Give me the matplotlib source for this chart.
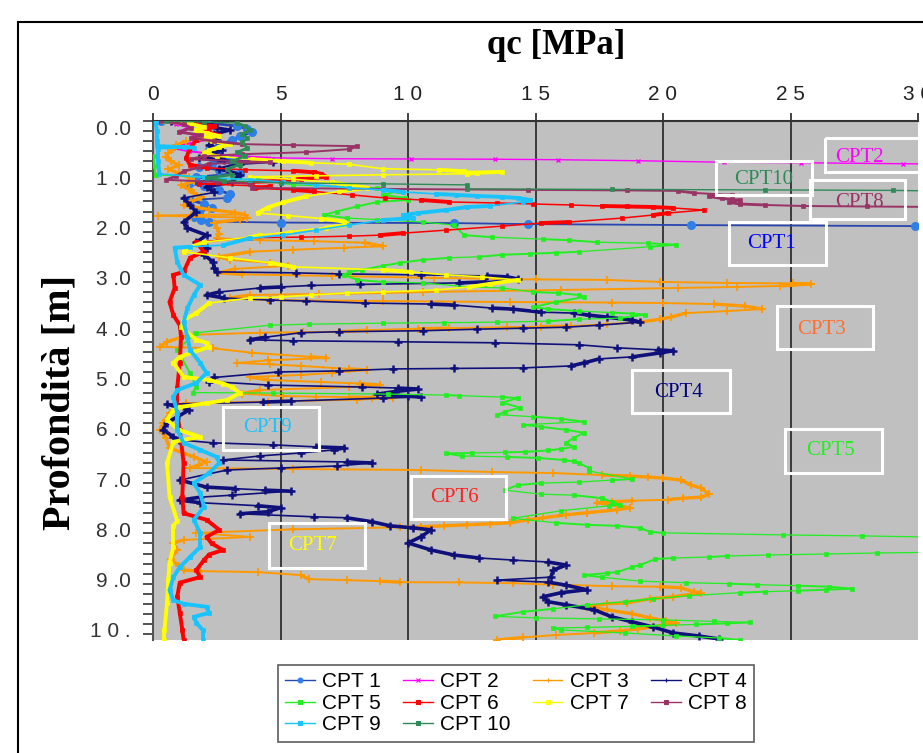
import numpy as np
import matplotlib
matplotlib.use("Agg")
import matplotlib.pyplot as plt
from matplotlib import font_manager
from matplotlib.patches import Rectangle
from matplotlib.lines import Line2D
from matplotlib.collections import LineCollection
import matplotlib.transforms as mtransforms

# ---- data: (depth [m], qc [MPa]) ----
cpt1 = [(0.00, 0.3), (0.04, 2.2), (0.10, 3.3), (0.16, 3.7), (0.22, 3.9), (0.30, 3.4), (0.38, 3.1),
        (0.48, 2.6), (0.58, 2.2), (0.68, 2.6), (0.78, 3.0), (0.85, 2.3), (0.91, 1.8), (0.97, 2.6),
        (1.03, 3.4), (1.11, 1.7), (1.17, 2.5), (1.23, 1.45), (1.30, 2.0), (1.38, 2.6), (1.45, 3.0),
        (1.53, 2.9), (1.57, 1.45), (1.65, 2.0), (1.72, 2.3), (1.81, 1.8), (1.91, 1.6), (1.97, 1.9),
        (2.00, 2.2), (2.02, 5.0), (2.03, 11.8), (2.05, 14.7), (2.07, 21.1), (2.09, 29.9), (2.10, 32.0)]

cpt2 = [(0.00, 0.2), (0.06, 0.9), (0.12, 1.4), (0.20, 1.1), (0.28, 1.6), (0.36, 2.2), (0.44, 1.5),
        (0.50, 0.9), (0.54, 0.8), (0.60, 1.4), (0.66, 2.4), (0.70, 3.5), (0.73, 4.5), (0.75, 7.0),
        (0.755, 10.1), (0.76, 13.4), (0.77, 15.9), (0.79, 19.0), (0.82, 22.4), (0.83, 25.4),
        (0.85, 29.4), (0.86, 32.0)]

cpt3 = [(0.40, 1.3), (0.48, 0.9), (0.56, 0.8), (0.64, 0.6), (0.72, 0.5), (0.80, 0.7), (0.88, 1.0),
        (0.96, 0.6), (1.04, 1.0), (1.12, 1.4), (1.20, 1.6), (1.28, 1.1), (1.36, 1.4), (1.44, 1.6),
        (1.52, 1.9), (1.60, 1.5), (1.68, 1.2), (1.76, 2.2), (1.82, 3.2), (1.86, 3.6), (1.87, 1.5),
        (1.88, 0.2), (1.90, 1.5), (1.92, 3.7), (1.96, 3.4), (2.02, 2.4), (2.12, 2.5), (2.25, 2.6),
        (2.33, 2.5), (2.37, 4.2), (2.39, 6.3), (2.42, 8.3), (2.49, 9.0), (2.52, 7.5), (2.56, 5.5),
        (2.60, 3.8), (2.70, 2.6), (2.76, 3.0), (2.82, 4.6), (2.88, 5.3), (2.94, 3.2), (3.02, 2.6),
        (3.05, 3.5), (3.08, 7.0), (3.12, 11.0), (3.15, 15.0), (3.16, 17.8), (3.20, 19.9), (3.22, 22.5),
        (3.23, 25.1), (3.24, 25.8), (3.28, 24.6), (3.30, 22.9), (3.32, 20.6), (3.36, 16.0), (3.40, 10.6),
        (3.42, 9.0), (3.44, 6.5), (3.46, 3.8), (3.52, 3.0), (3.56, 4.5), (3.58, 9.0), (3.60, 14.0),
        (3.61, 18.0), (3.62, 20.0), (3.64, 22.0), (3.68, 23.2), (3.74, 23.9), (3.78, 22.5), (3.82, 20.9),
        (3.90, 20.3), (3.94, 19.9), (4.00, 19.1), (4.04, 17.8), (4.08, 16.4), (4.09, 15.2), (4.10, 13.9),
        (4.12, 11.6), (4.13, 10.4), (4.16, 8.4), (4.19, 7.3), (4.20, 5.9), (4.21, 4.2), (4.25, 1.6),
        (4.31, 1.05), (4.39, 0.55), (4.49, 0.27), (4.52, 2.35), (4.61, 3.9), (4.69, 6.2), (4.71, 6.8),
        (4.76, 4.5), (4.81, 3.3), (4.84, 4.6), (4.87, 5.8), (4.93, 7.7), (4.95, 8.4), (5.01, 7.0),
        (5.05, 5.8), (5.09, 3.8), (5.15, 4.5), (5.19, 6.6), (5.22, 8.1), (5.25, 8.9), (5.29, 7.7),
        (5.35, 4.2), (5.42, 3.5), (5.47, 5.1), (5.48, 6.4), (5.49, 7.7), (5.50, 8.6), (5.51, 9.4),
        (5.54, 8.0), (5.58, 4.5), (5.61, 1.3), (5.80, 0.65), (6.00, 0.4), (6.14, 0.27), (6.30, 0.5),
        (6.50, 0.65), (6.68, 1.6), (6.78, 2.1), (6.84, 1.8), (6.90, 1.45), (6.92, 5.5), (6.94, 10.5),
        (6.98, 13.3), (7.00, 15.7), (7.04, 17.6), (7.06, 18.7), (7.08, 19.4), (7.10, 20.0), (7.14, 20.7),
        (7.24, 21.1), (7.30, 21.5), (7.42, 21.8), (7.48, 21.5), (7.50, 20.8), (7.53, 20.2), (7.55, 18.8),
        (7.57, 18.0), (7.59, 17.4), (7.65, 18.2), (7.69, 18.7), (7.73, 18.2), (7.79, 17.0), (7.83, 16.2),
        (7.89, 15.3), (7.93, 14.7), (7.99, 14.0), (8.01, 13.2), (8.03, 12.3), (8.05, 11.4), (8.07, 10.5),
        (8.08, 9.7), (8.12, 5.5), (8.19, 1.7), (8.27, 3.8), (8.33, 1.2), (8.39, 0.8), (8.53, 0.95),
        (8.70, 0.7), (8.85, 1.0), (8.93, 1.2), (8.95, 1.85), (8.97, 4.1), (9.03, 5.8), (9.11, 6.1),
        (9.13, 7.6), (9.15, 8.9), (9.17, 9.7), (9.175, 12.0), (9.19, 14.1), (9.22, 15.7), (9.25, 18.0),
        (9.26, 19.9), (9.28, 20.7), (9.36, 21.2), (9.38, 21.5), (9.46, 20.4), (9.50, 19.5), (9.58, 18.6),
        (9.60, 17.8), (9.66, 17.0), (9.72, 17.8), (9.80, 18.8), (9.88, 19.5), (9.94, 20.1), (9.98, 20.5),
        (10.02, 20.0), (10.06, 19.6), (10.10, 19.0), (10.14, 18.3), (10.18, 17.3), (10.22, 15.8),
        (10.27, 14.5), (10.32, 13.5)]

cpt4 = [(0.00, 0.7), (0.04, 1.8), (0.08, 2.3), (0.14, 2.5), (0.18, 3.0), (0.26, 2.4), (0.38, 2.5),
        (0.48, 2.2), (0.58, 2.7), (0.66, 2.3), (0.72, 2.6), (0.74, 1.8), (0.78, 2.8), (0.82, 4.7),
        (0.86, 3.4), (0.95, 2.6), (1.07, 3.4), (1.21, 3.1), (1.31, 2.1), (1.42, 2.4), (1.53, 1.2),
        (1.67, 1.45), (1.81, 1.7), (2.01, 1.2), (2.13, 1.35), (2.27, 2.1), (2.41, 1.7), (2.52, 2.1),
        (2.66, 2.0), (2.80, 2.35), (2.92, 2.4), (3.00, 2.5), (3.02, 5.6), (3.04, 7.3), (3.06, 10.5),
        (3.08, 13.1), (3.10, 13.9), (3.14, 14.3), (3.20, 13.0), (3.22, 12.0), (3.25, 8.1), (3.27, 6.2),
        (3.30, 5.0), (3.32, 4.2), (3.40, 2.6), (3.46, 2.1), (3.52, 2.8), (3.56, 4.6), (3.58, 6.0),
        (3.62, 8.3), (3.64, 10.9), (3.66, 11.8), (3.72, 13.3), (3.74, 14.1), (3.80, 15.2), (3.82, 16.5),
        (3.86, 17.1), (3.90, 17.8), (3.96, 18.8), (4.00, 19.1), (4.06, 17.5), (4.10, 16.2), (4.12, 14.5),
        (4.14, 12.7), (4.17, 10.6), (4.19, 7.3), (4.21, 5.8), (4.30, 4.4), (4.35, 3.8), (4.37, 5.5),
        (4.39, 9.6), (4.41, 13.4), (4.45, 16.7), (4.51, 18.2), (4.55, 19.8), (4.57, 20.4), (4.61, 19.9),
        (4.69, 18.8), (4.73, 17.5), (4.81, 16.9), (4.87, 16.4), (4.91, 14.5), (4.92, 11.8), (4.93, 9.4),
        (4.97, 7.3), (4.99, 4.9), (5.10, 2.4), (5.18, 2.2), (5.25, 4.5), (5.29, 8.2), (5.31, 9.6),
        (5.33, 10.4), (5.38, 9.5), (5.43, 8.8), (5.47, 10.0), (5.49, 10.5), (5.51, 9.0), (5.57, 5.4),
        (5.59, 4.3), (5.63, 0.55), (5.75, 1.4), (5.90, 0.9), (6.00, 0.55), (6.14, 0.4), (6.28, 0.8),
        (6.34, 1.0), (6.40, 2.35), (6.44, 4.7), (6.48, 6.4), (6.50, 7.5), (6.54, 7.1), (6.60, 5.8),
        (6.66, 4.2), (6.74, 2.75), (6.78, 7.6), (6.80, 8.6), (6.86, 7.2), (6.90, 5.0), (6.94, 2.9),
        (7.14, 1.05), (7.28, 2.1), (7.31, 3.2), (7.34, 4.4), (7.36, 5.4), (7.44, 3.1), (7.48, 1.85),
        (7.54, 1.05), (7.59, 1.85), (7.65, 4.1), (7.69, 5.0), (7.77, 4.5), (7.81, 3.4), (7.87, 6.3),
        (7.89, 7.6), (7.97, 8.6), (8.05, 9.3), (8.09, 10.2), (8.13, 10.9), (8.27, 10.5), (8.39, 10.0),
        (8.53, 10.9), (8.63, 11.8), (8.69, 12.8), (8.73, 14.1), (8.77, 15.5), (8.83, 16.2), (8.93, 15.7),
        (9.07, 15.6), (9.13, 13.5), (9.17, 15.5), (9.23, 16.2), (9.32, 17.0), (9.38, 16.0), (9.46, 15.3),
        (9.56, 15.5), (9.62, 16.2), (9.72, 17.3), (9.86, 18.0), (9.96, 18.8), (10.06, 19.6),
        (10.18, 20.4), (10.24, 21.4), (10.30, 22.2)]

cpt5 = [(0.70, 0.05), (0.90, 0.05), (1.07, 0.1), (1.12, 2.0), (1.17, 4.1), (1.27, 5.5), (1.33, 8.8),
        (1.40, 9.6), (1.47, 9.0), (1.53, 9.9), (1.57, 10.0), (1.61, 8.8), (1.70, 8.0), (1.80, 7.2),
        (1.87, 6.7), (1.93, 7.6), (1.96, 8.8), (2.01, 10.6), (2.07, 11.8), (2.27, 12.2), (2.31, 13.3),
        (2.35, 15.3), (2.37, 16.3), (2.41, 17.4), (2.43, 19.4), (2.46, 20.5), (2.50, 19.5), (2.60, 16.7),
        (2.62, 15.8), (2.64, 14.8), (2.66, 13.7), (2.70, 12.8), (2.72, 11.6), (2.76, 10.6), (2.82, 9.7),
        (2.88, 9.0), (2.96, 8.2), (3.00, 7.7), (3.06, 7.5), (3.16, 8.0), (3.20, 9.0), (3.22, 10.6),
        (3.30, 12.4), (3.32, 13.7), (3.40, 14.9), (3.42, 15.9), (3.46, 16.7), (3.50, 16.9), (3.60, 15.8),
        (3.70, 14.9), (3.74, 15.5), (3.78, 16.7), (3.81, 18.0), (3.83, 18.8), (3.85, 19.3), (3.92, 18.3),
        (3.94, 16.7), (3.98, 15.5), (4.00, 13.5), (4.01, 11.4), (4.02, 9.0), (4.04, 6.1), (4.06, 4.6),
        (4.21, 1.7), (4.55, 0.95), (5.01, 1.45), (5.29, 1.7), (5.40, 1.55), (5.41, 4.7), (5.43, 9.2),
        (5.45, 11.5), (5.46, 12.0), (5.49, 13.7), (5.51, 14.3), (5.60, 13.7), (5.70, 14.4), (5.78, 13.8),
        (5.84, 13.5), (5.88, 14.9), (5.92, 16.0), (5.98, 16.9), (6.04, 14.5), (6.08, 15.2), (6.14, 16.2),
        (6.20, 16.9), (6.30, 16.5), (6.40, 16.2), (6.48, 16.5), (6.52, 16.0), (6.55, 15.5), (6.58, 14.6),
        (6.59, 13.8), (6.60, 12.5), (6.61, 11.5), (6.66, 12.1), (6.68, 13.9), (6.70, 15.1), (6.74, 16.1),
        (6.77, 16.5), (6.80, 16.7), (6.90, 17.1), (6.96, 17.1), (7.12, 18.8), (7.14, 18.0), (7.18, 16.7),
        (7.20, 15.2), (7.24, 14.3), (7.34, 13.8), (7.42, 15.2), (7.44, 16.5), (7.50, 17.6), (7.57, 18.0),
        (7.63, 18.3), (7.65, 17.9), (7.75, 16.0), (7.90, 14.1), (7.99, 15.8), (8.03, 17.0), (8.05, 18.2),
        (8.09, 19.1), (8.17, 19.5), (8.19, 20.0), (8.23, 24.7), (8.25, 27.8), (8.27, 30.2), (8.28, 31.5),
        (8.57, 31.5), (8.59, 28.4), (8.61, 26.4), (8.63, 24.1), (8.65, 22.5), (8.67, 21.8), (8.69, 20.4),
        (8.71, 19.7), (8.83, 19.1), (8.87, 18.8), (8.97, 18.2), (8.99, 17.8), (9.03, 16.9), (9.07, 17.6),
        (9.15, 19.1), (9.18, 20.9), (9.20, 22.6), (9.22, 23.7), (9.24, 25.3), (9.26, 26.5), (9.30, 27.4),
        (9.32, 26.4), (9.34, 25.3), (9.36, 24.0), (9.38, 23.0), (9.44, 21.0), (9.50, 19.6), (9.56, 18.5),
        (9.62, 17.0), (9.70, 15.7), (9.76, 14.5), (9.85, 13.4), (9.88, 15.0), (9.90, 17.5), (9.92, 20.0),
        (9.95, 22.0), (9.97, 23.4), (9.99, 22.5), (10.01, 21.3), (10.03, 20.0), (10.05, 18.8),
        (10.07, 17.0), (10.08, 15.7), (10.12, 16.0), (10.18, 18.5), (10.24, 20.5), (10.28, 22.2),
        (10.32, 23.0)]

cpt6 = [(0.00, 0.3), (0.05, 1.5), (0.10, 2.4), (0.14, 2.2), (0.18, 1.8), (0.28, 2.6), (0.38, 1.7),
        (0.54, 1.45), (0.74, 1.3), (0.87, 1.45), (0.93, 2.1), (0.97, 3.6), (0.99, 5.5), (1.02, 6.3),
        (1.05, 6.6), (1.11, 6.8), (1.15, 5.8), (1.19, 5.1), (1.21, 3.9), (1.25, 1.8), (1.30, 4.6),
        (1.34, 4.0), (1.37, 5.5), (1.40, 6.3), (1.47, 7.8), (1.53, 9.1), (1.57, 10.5), (1.61, 11.6),
        (1.63, 13.5), (1.65, 14.9), (1.67, 16.4), (1.69, 17.6), (1.70, 18.6), (1.71, 19.6), (1.73, 20.4),
        (1.77, 21.6), (1.83, 20.2), (1.87, 19.6), (1.93, 18.4), (2.01, 16.3), (2.03, 15.2), (2.09, 13.7),
        (2.17, 11.5), (2.23, 9.8), (2.27, 8.9), (2.29, 7.7), (2.31, 5.8), (2.32, 3.8), (2.41, 1.7),
        (2.60, 2.0), (2.72, 1.45), (3.00, 1.2), (3.06, 0.8), (3.32, 0.85), (3.60, 0.65), (3.86, 0.8),
        (4.06, 1.05), (4.29, 1.1), (4.81, 1.05), (5.30, 0.95), (5.80, 0.95), (6.14, 1.05), (6.80, 1.2),
        (7.47, 1.15), (7.80, 1.2), (7.93, 2.1), (8.13, 2.6), (8.27, 2.1), (8.40, 2.3), (8.53, 2.75),
        (8.62, 2.2), (8.73, 2.0), (8.93, 1.7), (9.07, 1.85), (9.18, 1.05), (9.46, 0.95), (9.78, 1.05),
        (10.12, 1.15), (10.32, 1.2)]

cpt7 = [(0.00, 0.4), (0.06, 1.5), (0.12, 2.0), (0.18, 1.65), (0.24, 2.1), (0.30, 2.6), (0.34, 1.9),
        (0.40, 2.3), (0.46, 3.0), (0.52, 2.6), (0.58, 2.2), (0.64, 2.0), (0.70, 2.5), (0.76, 3.9),
        (0.80, 5.1), (0.83, 6.2), (0.86, 7.7), (0.95, 9.0), (0.97, 11.2), (1.00, 12.2), (1.01, 13.7),
        (1.03, 12.7), (1.05, 12.3), (1.07, 9.0), (1.09, 6.4), (1.11, 3.8), (1.16, 5.5), (1.22, 7.0),
        (1.28, 7.8), (1.33, 8.4), (1.40, 7.3), (1.50, 6.0), (1.62, 5.1), (1.72, 4.5), (1.83, 4.1),
        (1.88, 5.3), (1.94, 6.6), (2.00, 7.5), (2.06, 7.7), (2.12, 6.8), (2.20, 5.4), (2.27, 4.2),
        (2.31, 3.8), (2.41, 2.0), (2.52, 1.4), (2.60, 1.2), (2.72, 3.0), (2.82, 4.6), (2.90, 5.5),
        (2.96, 9.0), (3.00, 10.1), (3.06, 11.5), (3.10, 12.9), (3.16, 14.3), (3.24, 13.2), (3.30, 12.4),
        (3.36, 11.1), (3.40, 9.0), (3.42, 7.6), (3.46, 6.2), (3.50, 5.0), (3.52, 3.8), (3.62, 2.2),
        (3.82, 1.7), (3.96, 1.2), (4.10, 1.1), (4.35, 1.7), (4.41, 2.1), (4.49, 2.2), (4.69, 1.05),
        (4.81, 0.8), (5.09, 1.2), (5.15, 2.2), (5.22, 2.75), (5.29, 3.1), (5.41, 3.4), (5.55, 2.9),
        (5.61, 2.1), (5.69, 1.05), (5.75, 0.8), (5.94, 0.55), (6.14, 1.0), (6.28, 1.85), (6.38, 0.8),
        (6.80, 0.55), (7.47, 0.65), (7.95, 0.95), (8.05, 0.8), (8.47, 0.8), (8.79, 0.65), (9.13, 0.6),
        (9.58, 0.55), (10.12, 0.45), (10.32, 0.45)]

cpt8 = [(0.00, 0.3), (0.06, 1.2), (0.14, 1.5), (0.22, 1.0), (0.28, 1.9), (0.34, 1.5), (0.40, 2.4),
        (0.46, 3.5), (0.48, 5.5), (0.50, 8.0), (0.56, 7.7), (0.62, 6.0), (0.66, 3.5), (0.70, 2.0),
        (0.76, 1.5), (0.82, 4.6), (0.85, 2.2), (0.92, 1.8), (1.00, 1.2), (1.10, 0.9), (1.17, 0.5),
        (1.21, 2.5), (1.25, 3.8), (1.33, 3.9), (1.35, 9.0), (1.37, 14.7), (1.38, 18.6), (1.39, 20.6),
        (1.43, 21.2), (1.47, 22.7), (1.50, 21.8), (1.54, 22.3), (1.57, 23.0), (1.62, 22.6), (1.65, 23.0),
        (1.67, 24.0), (1.69, 25.5), (1.70, 28.0), (1.71, 31.0)]

cpt9 = [(0.00, 0.1), (0.20, 0.15), (0.40, 0.15), (0.50, 0.15), (0.52, 1.2), (0.53, 1.6), (0.55, 0.2),
        (0.80, 0.2), (1.05, 0.25), (1.12, 2.0), (1.17, 3.8), (1.21, 5.1), (1.27, 6.4), (1.33, 7.7),
        (1.37, 9.0), (1.41, 9.8), (1.45, 11.1), (1.47, 11.9), (1.49, 12.7), (1.51, 13.7), (1.53, 14.3),
        (1.57, 14.8), (1.61, 14.5), (1.69, 13.2), (1.71, 12.3), (1.77, 11.5), (1.83, 10.4), (1.87, 9.8),
        (1.93, 10.2), (1.97, 9.0), (2.07, 7.7), (2.17, 6.4), (2.27, 5.1), (2.33, 3.8), (2.47, 2.75),
        (2.50, 1.45), (2.52, 0.85), (2.80, 0.95), (3.06, 1.2), (3.26, 1.85), (3.46, 1.6), (3.72, 1.35),
        (4.00, 1.2), (4.29, 1.35), (4.55, 1.45), (4.81, 1.85), (5.01, 2.1), (5.21, 1.7), (5.35, 0.95),
        (5.49, 0.8), (5.80, 0.95), (6.14, 0.95), (6.40, 1.2), (6.54, 1.85), (6.68, 2.5), (6.80, 2.6),
        (7.00, 2.2), (7.20, 1.6), (7.40, 1.85), (7.67, 2.0), (7.93, 1.6), (8.19, 1.85), (8.47, 1.85),
        (8.67, 1.45), (8.87, 1.05), (9.07, 0.8), (9.33, 0.65), (9.53, 0.8), (9.60, 1.2), (9.66, 2.1),
        (9.78, 2.2), (9.86, 1.6), (9.98, 1.7), (10.12, 1.95), (10.32, 1.95)]

cpt10 = [(0.00, 0.5), (0.02, 2.0), (0.04, 3.3), (0.10, 3.6), (0.18, 3.8), (0.26, 3.5), (0.34, 3.7),
         (0.42, 3.5), (0.54, 3.7), (0.62, 3.3), (0.70, 3.6), (0.80, 3.1), (0.87, 3.4), (0.95, 2.9),
         (1.07, 3.1), (1.13, 2.1), (1.19, 2.8), (1.23, 5.0), (1.25, 9.0), (1.27, 12.3), (1.35, 12.3),
         (1.36, 18.0), (1.37, 24.0), (1.38, 29.0), (1.40, 32.0)]

series_names = ['CPT 1', 'CPT 2', 'CPT 3', 'CPT 4', 'CPT 5',
                'CPT 6', 'CPT 7', 'CPT 8', 'CPT 9', 'CPT 10']
series_data = [cpt1, cpt2, cpt3, cpt4, cpt5, cpt6, cpt7, cpt8, cpt9, cpt10]

x_ticks = [0, 5, 10, 15, 20, 25, 30]
x_tick_labels = ['0', '5', '1 0', '1 5', '2 0', '2 5', '3 0']
y_ticks = [0, 1, 2, 3, 4, 5, 6, 7, 8, 9, 10]
y_tick_labels = ['0 .0', '1 .0', '2 .0', '3 .0', '4 .0', '5 .0', '6 .0', '7 .0', '8 .0', '9 .0', '1 0 .']

# label boxes: text, colour, text x/y, box x0, x1, y0, y1
boxes = [
    ('CPT2', '#FF00FF', 27.7, 0.72, 26.35, 30.6, 0.34, 1.01),
    ('CPT10', '#2E8B57', 23.96, 1.17, 22.08, 25.84, 0.80, 1.47),
    ('CPT8', '#993366', 27.69, 1.63, 25.76, 29.49, 1.17, 1.95),
    ('CPT1', '#0000FF', 24.27, 2.43, 22.59, 26.39, 2.01, 2.86),
    ('CPT3', '#FF7030', 26.2, 4.14, 24.47, 28.24, 3.68, 4.53),
    ('CPT4', '#000080', 20.6, 5.39, 18.78, 22.63, 4.95, 5.81),
    ('CPT5', '#22EE22', 26.55, 6.56, 24.78, 28.59, 6.12, 7.00),
    ('CPT9', '#19C3FF', 4.47, 6.10, 2.75, 6.51, 5.69, 6.54),
    ('CPT6', '#FF2020', 11.84, 7.48, 10.12, 13.84, 7.06, 7.91),
    ('CPT7', '#FFFF00', 6.27, 8.45, 4.55, 8.31, 7.99, 8.89),
]

# colour, marker style, line width on steep (near vertical) and flat parts
styles = [
    dict(color='#2845B0', marker='o', ms=5.5, mfc='#2F7FE8', mec='#2F7FE8', mew=1.0, thick=2.0, thin=1.3),
    dict(color='#FF00FF', marker='x', ms=3, mfc='#FF00FF', mec='#FF00FF', mew=1.0, thick=1.5, thin=1.0),
    dict(color='#FF9900', marker='+', ms=6, mfc='#FF9900', mec='#FF9900', mew=1.3, thick=2.4, thin=1.4),
    dict(color='#10107A', marker='+', ms=6, mfc='#10107A', mec='#10107A', mew=1.8, thick=2.6, thin=1.2),
    dict(color='#22EE22', marker='s', ms=2.6, mfc='#22EE22', mec='#22EE22', mew=0.5, thick=1.4, thin=0.9),
    dict(color='#FF0000', marker='s', ms=3.2, mfc='#FF0000', mec='#FF0000', mew=0.5, thick=2.8, thin=1.1),
    dict(color='#FFFF00', marker='s', ms=3.0, mfc='#FFFF00', mec='#FFFF00', mew=0.5, thick=2.8, thin=1.2),
    dict(color='#993366', marker='s', ms=3.2, mfc='#993366', mec='#993366', mew=0.5, thick=2.0, thin=1.4),
    dict(color='#19C3FF', marker='s', ms=3.0, mfc='#19C3FF', mec='#19C3FF', mew=0.5, thick=2.8, thin=1.2),
    dict(color='#2E8B57', marker='s', ms=2.4, mfc='#2E8B57', mec='#2E8B57', mew=0.5, thick=2.0, thin=1.0),
]

names = {f.name for f in font_manager.fontManager.ttflist}
tick_font = 'Liberation Sans Narrow' if 'Liberation Sans Narrow' in names else 'Liberation Sans'

fig = plt.figure(figsize=(9.23, 7.53), dpi=100)
ax = fig.add_axes([153 / 923, 1 - 640 / 753, 765 / 923, 519 / 753])
ax.set_facecolor('#C0C0C0')

handles = []
for i, (name, pts, st) in enumerate(zip(series_names, series_data, styles)):
    arr = np.array(pts)
    xy = np.column_stack([arr[:, 1], arr[:, 0]])
    segs = np.stack([xy[:-1], xy[1:]], axis=1)
    dq = np.abs(np.diff(arr[:, 1]))
    widths = np.where(dq < 1.2, st['thick'], st['thin'])
    lc = LineCollection(segs, colors=st['color'], linewidths=widths, capstyle='round',
                        joinstyle='round', zorder=3 + i * 0.01)
    ax.add_collection(lc)
    ax.plot(xy[:, 0], xy[:, 1], ls='none', marker=st['marker'], ms=st['ms'], mfc=st['mfc'],
            mec=st['mec'], mew=st['mew'], zorder=3.005 + i * 0.01)
    handles.append(Line2D([], [], color=st['color'], lw=1.0, marker=st['marker'],
                          ms=min(st['ms'], 3.5), mfc=st['mfc'], mec=st['mec'], mew=0.8))

for txt, col, tx, ty, x0, x1, y0, y1 in boxes:
    ax.add_patch(Rectangle((x0, y0), x1 - x0, y1 - y0, fill=False, edgecolor='white',
                           lw=2.2, zorder=5))
    ax.text(tx, ty, txt, color=col, fontsize=15, family='Liberation Serif',
            ha='center', va='center', zorder=6)

ax.set_xlim(0, 30)
ax.set_ylim(10.32, 0)
ax.xaxis.set_ticks_position('top')
ax.set_xticks(x_ticks)
ax.set_xticklabels(x_tick_labels, family=tick_font, fontsize=15)
ax.set_yticks(y_ticks)
ax.set_yticklabels(y_tick_labels, family=tick_font, fontsize=15)
ax.set_yticks(np.arange(0, 10.3, 0.2), minor=True)
ax.tick_params(axis='x', direction='out', length=6, width=1.2, pad=6, colors='#222222')
ax.tick_params(axis='y', which='both', direction='out', length=7, width=1.2, pad=9,
               colors='#333333')

# y labels sit a few pixels below their ticks in the original
offset = mtransforms.ScaledTranslation(0, -6 / 100, fig.dpi_scale_trans)
for lbl in ax.get_yticklabels():
    lbl.set_transform(lbl.get_transform() + offset)

for x in [5, 10, 15, 20, 25]:
    ax.axvline(x, color='#3A3A3A', lw=1.4, zorder=1)

ax.spines['right'].set_visible(False)
ax.spines['bottom'].set_visible(False)
ax.spines['top'].set_color('#333333')
ax.spines['top'].set_linewidth(1.5)
ax.spines['left'].set_color('#555555')
ax.spines['left'].set_linewidth(1.5)

fig.text(556 / 923, 1 - 46 / 753, 'qc [MPa]', ha='center', va='center',
         family='Liberation Serif', fontweight='bold', fontsize=25)
fig.text(60 / 923, 1 - 402 / 753, 'Profondità [m]', ha='center', va='center', rotation=90,
         family='Liberation Serif', fontweight='bold', fontsize=29)

# outer frame
fig.add_artist(Line2D([18 / 923, 1], [1 - 22 / 753, 1 - 22 / 753], transform=fig.transFigure,
                      color='black', lw=1.5))
fig.add_artist(Line2D([18 / 923, 18 / 923], [0, 1 - 22 / 753], transform=fig.transFigure,
                      color='black', lw=1.5))

order = [0, 4, 8, 1, 5, 9, 2, 6, 3, 7]
leg = fig.legend([handles[i] for i in order], [series_names[i] for i in order],
                 loc='upper center', bbox_to_anchor=(516 / 923, 1 - 665 / 753), ncol=4,
                 prop={'family': 'Liberation Sans', 'size': 15}, frameon=True, fancybox=False,
                 edgecolor='#333333', labelspacing=0.12, handlelength=1.4, handletextpad=0.35,
                 columnspacing=1.1, borderpad=0.35, borderaxespad=0.0)
leg.get_frame().set_linewidth(1.2)

fig.savefig('out.png', dpi=100)
